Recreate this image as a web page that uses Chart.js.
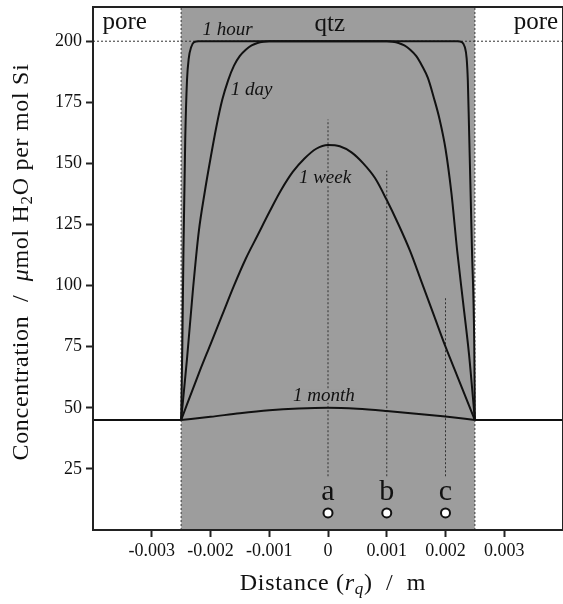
<!DOCTYPE html>
<html>
<head>
<meta charset="utf-8">
<script src="https://cdn.jsdelivr.net/npm/chart.js@4.4.0/dist/chart.umd.min.js"></script>
<style>
  html, body { margin: 0; padding: 0; background: #fff; }
  canvas { display: block; }
</style>
</head>
<body>
<canvas id="profileChart" width="563" height="604"></canvas>
<script>
// axis ticks
var xTicks = [-0.003, -0.002, -0.001, 0, 0.001, 0.002, 0.003];
var yTicks = [25, 50, 75, 100, 125, 150, 175, 200];

// concentration profiles [distance m, umol/mol]
var oneHour = [[-0.0025, 45], [-0.00248, 75], [-0.00246, 115], [-0.00243, 160], [-0.0024, 184], [-0.00237, 193],
    [-0.00233, 197.5], [-0.00228, 199.6], [-0.0022, 200], [0.0022, 200], [0.00228, 199.6], [0.00233, 197.5],
    [0.00236, 193], [0.00238, 184], [0.0024, 165], [0.00245, 115], [0.00249, 75], [0.0025, 45]];
var oneDay = [[-0.0025, 45], [-0.0024, 70], [-0.0023, 98], [-0.0022, 122], [-0.0021, 138], [-0.002, 152],
    [-0.0019, 165], [-0.0018, 176], [-0.0017, 184], [-0.0016, 190], [-0.0015, 194], [-0.0014, 196.5],
    [-0.0013, 198.3], [-0.0012, 199.3], [-0.0011, 199.8], [-0.001, 200], [0.001, 200], [0.0011, 199.8],
    [0.0012, 199.3], [0.0013, 198.3], [0.0014, 196.5], [0.0015, 194], [0.0016, 190], [0.0017, 185],
    [0.0018, 177], [0.0019, 168], [0.002, 156], [0.0021, 138], [0.0022, 114], [0.0023, 93], [0.0024, 72], [0.0025, 45]];
var oneWeek = [[-0.0025, 45], [-0.0022, 64], [-0.002, 76], [-0.0018, 88], [-0.0016, 100], [-0.0014, 111],
    [-0.0012, 120.5], [-0.001, 130], [-0.0008, 139], [-0.0006, 146.5], [-0.0004, 152], [-0.0002, 156], [0, 157.5],
    [0.0002, 157], [0.0004, 154.5], [0.0006, 150], [0.0008, 144], [0.001, 135], [0.0012, 125], [0.0014, 114],
    [0.0016, 101], [0.0018, 88], [0.002, 75], [0.0022, 63], [0.0025, 45]];
var oneMonth = [[-0.0025, 45], [-0.002, 46.3], [-0.0015, 47.8], [-0.001, 49], [-0.0005, 49.7], [0, 50],
    [0.0005, 49.6], [0.001, 48.7], [0.0015, 47.6], [0.002, 46.4], [0.0025, 45]];

// pore water level, saturation level, quartz grain edges
var poreLeft = [[-0.004, 45], [-0.0025, 45]];
var poreRight = [[0.0025, 45], [0.004, 45]];
var saturation = [[-0.004, 200], [0.004, 200]];
var qtzEdges = [-0.0025, 0.0025];

// probe positions a, b, c
var probeNames = ['a', 'b', 'c'];
var probeX = [0, 0.001, 0.002];
var probeTop = [168, 147, 95];
var probeBottom = 22;
var probeDotY = 7;
var probeLabelY = 15.5;

var yMax = 214;
var serif = '"Liberation Serif", "DejaVu Serif", serif';

function pts(arr) {
    return arr.map(function (p) { return { x: p[0], y: p[1] }; });
}

function curve(arr) {
    return {
        data: pts(arr), showLine: true, borderColor: '#111', borderWidth: 2,
        pointRadius: 0, cubicInterpolationMode: 'monotone', order: 2
    };
}

function dotted(arr) {
    return {
        data: pts(arr), showLine: true, borderColor: '#333', borderWidth: 1,
        borderDash: [2, 2], pointRadius: 0, order: 5
    };
}

var datasets = [];
// grey quartz grain
datasets.push({
    data: [{ x: qtzEdges[0], y: yMax }, { x: qtzEdges[1], y: yMax }], showLine: true,
    borderWidth: 0, borderColor: 'rgba(0,0,0,0)', backgroundColor: '#9d9d9d',
    fill: 'start', pointRadius: 0, order: 10
});
datasets.push(dotted(saturation));
qtzEdges.forEach(function (x) { datasets.push(dotted([[x, 0], [x, yMax]])); });
probeX.forEach(function (x, i) { datasets.push(dotted([[x, probeBottom], [x, probeTop[i]]])); });
datasets.push(curve(poreLeft));
datasets.push(curve(poreRight));
datasets.push(curve(oneHour));
datasets.push(curve(oneDay));
datasets.push(curve(oneWeek));
datasets.push(curve(oneMonth));
// probe dots
datasets.push({
    data: probeX.map(function (x) { return { x: x, y: probeDotY }; }),
    pointRadius: 4.5, pointBackgroundColor: '#fff', pointBorderColor: '#111',
    pointBorderWidth: 2, order: 1
});

// text labels in data coordinates
var notes = [
    { text: 'pore', x: -0.00346, y: 207.5, font: '25px ' + serif },
    { text: 'qtz', x: 0.00003, y: 207, font: '25px ' + serif },
    { text: 'pore', x: 0.00354, y: 207.5, font: '25px ' + serif },
    { text: '1 hour', x: -0.00171, y: 204.5, font: 'italic 19px ' + serif },
    { text: '1 day', x: -0.0013, y: 180, font: 'italic 19px ' + serif },
    { text: '1 week', x: -0.00005, y: 144, font: 'italic 19px ' + serif, bg: true },
    { text: '1 month', x: -0.00007, y: 55, font: 'italic 19px ' + serif, bg: true }
];
probeNames.forEach(function (n, i) {
    notes.push({ text: n, x: probeX[i], y: probeLabelY, font: '30px ' + serif });
});

// draws text made of several styled pieces, centred on cx, cy
function drawRich(ctx, parts, cx, cy) {
    var total = 0;
    parts.forEach(function (p) { ctx.font = p.font; total += ctx.measureText(p.t).width; });
    var x = cx - total / 2;
    ctx.textAlign = 'left';
    ctx.textBaseline = 'middle';
    parts.forEach(function (p) {
        ctx.font = p.font;
        ctx.fillText(p.t, x, cy + (p.dy || 0));
        x += ctx.measureText(p.t).width;
    });
}

var decorations = {
    id: 'decorations',
    afterDatasetsDraw: function (chart) {
        var ctx = chart.ctx, a = chart.chartArea;
        var xs = chart.scales.x, ys = chart.scales.y;
        ctx.save();
        notes.forEach(function (n) {
            ctx.font = n.font;
            ctx.textAlign = 'center';
            ctx.textBaseline = 'middle';
            var px = xs.getPixelForValue(n.x), py = ys.getPixelForValue(n.y);
            if (n.bg) {
                var w = ctx.measureText(n.text).width;
                ctx.fillStyle = '#9d9d9d';
                ctx.fillRect(px - w / 2 - 2, py - 6, w + 4, 13);
            }
            ctx.fillStyle = '#111';
            ctx.fillText(n.text, px, py);
        });
        // frame
        ctx.strokeStyle = '#222';
        ctx.lineWidth = 2;
        ctx.strokeRect(a.left, a.top, a.right - a.left, a.bottom - a.top);
        ctx.restore();
    },
    afterDraw: function (chart) {
        var ctx = chart.ctx;
        ctx.save();
        ctx.fillStyle = '#111';
        ctx.letterSpacing = '0.7px';
        var f = '24px ' + serif, fi = 'italic 24px ' + serif, fs = 'italic 17px ' + serif, fsub = '17px ' + serif;
        drawRich(ctx, [
            { t: 'Distance (', font: f }, { t: 'r', font: fi }, { t: 'q', font: fs, dy: 6 },
            { t: ')  /  m', font: f }
        ], 333, 584);
        ctx.translate(22, 262);
        ctx.rotate(-Math.PI / 2);
        drawRich(ctx, [
            { t: 'Concentration  /  ', font: f }, { t: 'μ', font: fi }, { t: 'mol H', font: f },
            { t: '2', font: fsub, dy: 6 }, { t: 'O per mol Si', font: f }
        ], 0, 0);
        ctx.restore();
    }
};

function noEdgePadding(s) {
    s.paddingTop = 0; s.paddingBottom = 0; s.paddingLeft = 0; s.paddingRight = 0;
}

var ctx = document.getElementById('profileChart').getContext('2d');
var profileChart = new Chart(ctx, {
    type: 'scatter',
    data: { datasets: datasets },
    options: {
        responsive: false,
        animation: false,
        layout: { autoPadding: false, padding: { top: 7, right: 0, left: 0, bottom: 0 } },
        plugins: { legend: { display: false }, tooltip: { enabled: false } },
        scales: {
            x: {
                type: 'linear', min: -0.004, max: 0.004,
                afterBuildTicks: function (s) { s.ticks = xTicks.map(function (v) { return { value: v }; }); },
                afterFit: function (s) { s.height = 74; noEdgePadding(s); },
                ticks: {
                    color: '#111', padding: 3, maxRotation: 0,
                    font: { family: serif, size: 18 },
                    callback: function (v) { return String(v); }
                },
                grid: { drawOnChartArea: false, tickLength: 7, tickWidth: 2, color: '#222' },
                border: { display: false }
            },
            y: {
                min: 0, max: yMax,
                afterBuildTicks: function (s) { s.ticks = yTicks.map(function (v) { return { value: v }; }); },
                afterFit: function (s) { s.width = 93; noEdgePadding(s); },
                ticks: {
                    color: '#111', padding: 4,
                    font: { family: serif, size: 18 }
                },
                grid: { drawOnChartArea: false, tickLength: 7, tickWidth: 2, color: '#222' },
                border: { display: false }
            }
        }
    },
    plugins: [decorations]
});
</script>
</body>
</html>
